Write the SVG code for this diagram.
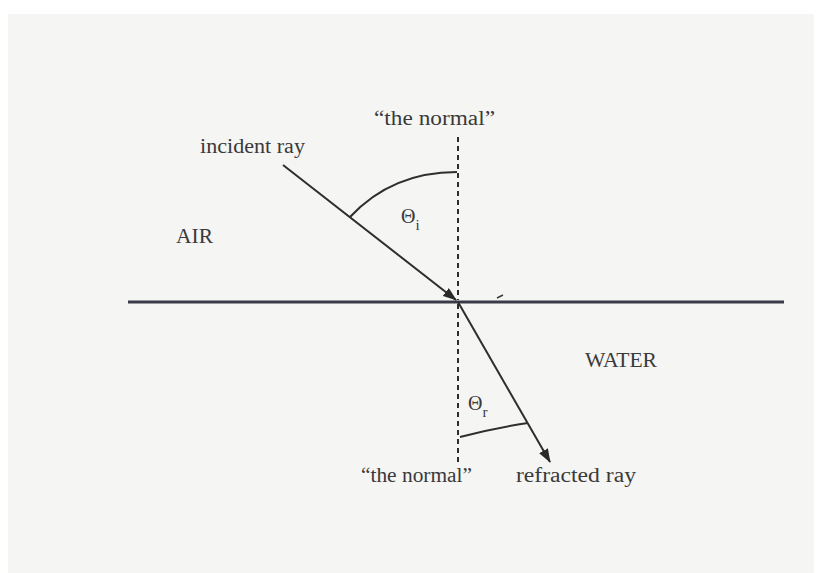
<svg xmlns="http://www.w3.org/2000/svg" width="821" height="573" viewBox="0 0 821 573">
<defs>
<marker id="arr" viewBox="0 0 14 10" refX="13" refY="5" markerWidth="14" markerHeight="10" markerUnits="userSpaceOnUse" orient="auto">
<path d="M0,0 L14,5 L0,10 Z" fill="#2a2a2a"/>
</marker>
<style>
.lbl{font-family:"Liberation Serif","Times New Roman",serif;font-size:20px;fill:#3a3a3a}
.sub{font-size:15px}
.ray{stroke:#2e2e2e;stroke-width:2;fill:none}
.normal{stroke:#2e2e2e;stroke-width:2;stroke-dasharray:5,4;fill:none}
.arc{stroke:#2e2e2e;stroke-width:2;fill:none}
</style>
</defs>
<rect x="0" y="0" width="821" height="573" fill="#ffffff"/>
<rect x="8" y="14" width="806" height="559" fill="#f5f5f4"/>
<g id="surface">
<line x1="128" y1="302" x2="784" y2="302" stroke="#3a3a48" stroke-width="3"/>
<line x1="497" y1="298" x2="503" y2="295" stroke="#3a3a3a" stroke-width="1.5"/>
</g>
<g id="connectors">
<line class="normal" x1="458" y1="137" x2="458" y2="300"/>
<line class="normal" x1="458" y1="304" x2="458" y2="462"/>
<line class="ray" x1="283" y1="165" x2="456" y2="300" marker-end="url(#arr)"/>
<line class="ray" x1="458" y1="302" x2="550" y2="462" marker-end="url(#arr)"/>
<path class="arc" d="M350,217 Q392,172 457,172"/>
<path class="arc" d="M460,437 Q494,428 528,423"/>
</g>
<g id="incident-label"><text class="lbl" x="200" y="153" textLength="105" lengthAdjust="spacingAndGlyphs">incident ray</text></g>
<g id="normal-top"><text class="lbl" x="374" y="125" textLength="121" lengthAdjust="spacingAndGlyphs">“the normal”</text></g>
<g id="air"><text class="lbl" x="176" y="243" textLength="37" lengthAdjust="spacingAndGlyphs">AIR</text></g>
<g id="water"><text class="lbl" x="585" y="367" textLength="72" lengthAdjust="spacingAndGlyphs">WATER</text></g>
<g id="theta-i"><text class="lbl" x="401" y="223">Θ<tspan class="sub" dy="7">i</tspan></text></g>
<g id="theta-r"><text class="lbl" x="468" y="410">Θ<tspan class="sub" dy="7">r</tspan></text></g>
<g id="normal-bottom"><text class="lbl" x="361" y="482" textLength="111" lengthAdjust="spacingAndGlyphs">“the normal”</text></g>
<g id="refracted-label"><text class="lbl" x="516" y="482" textLength="120" lengthAdjust="spacingAndGlyphs">refracted ray</text></g>
</svg>
